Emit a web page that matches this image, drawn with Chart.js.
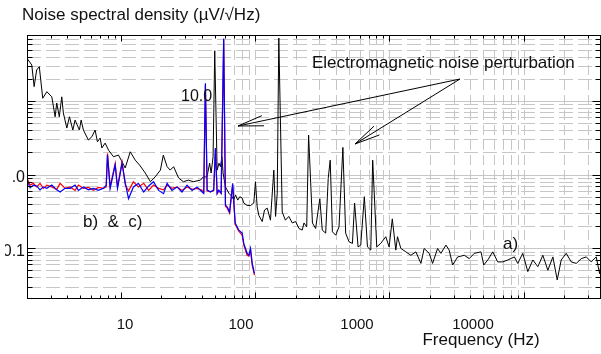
<!DOCTYPE html>
<html>
<head>
<meta charset="utf-8">
<script src="https://cdn.jsdelivr.net/npm/chart.js@4.4.0/dist/chart.umd.min.js"></script>
<style>
  html, body { margin: 0; padding: 0; background: #fff; }
</style>
</head>
<body>
<canvas id="noiseChart" width="601" height="354"></canvas>
<script>
// a) black curve: frequency (Hz) and noise density (µV/√Hz)
const freqA = [2.0, 2.17, 2.26, 2.36, 2.47, 2.62, 2.81, 3.06, 3.24, 3.33,
  3.48, 3.63, 3.73, 3.96, 4.14, 4.39, 4.56, 4.91, 5.06, 5.26,
  5.73, 6.08, 6.43, 6.69, 7.01, 7.22, 7.64, 8.09, 8.81, 9.6,
  10.05, 10.77, 11.74, 12.8, 13.77, 15.2, 16.6, 18.0, 19.7, 20.7,
  22.1, 23.3, 24.7, 26.9, 29.2, 31.8, 34.7, 39.1, 41.1, 43.8,
  45.8, 47.0, 48.6, 50.0, 52.1, 53.8, 55.1, 56.6, 57.7, 60.1,
  63.6, 67.4, 69.3, 71.3, 74.2, 76.8, 80.0, 82.3, 87.2, 92.3,
  97.7, 100.5, 103.5, 106.4, 112.8, 117.4, 123, 130, 137.7, 141.9,
  146, 150, 159, 168, 178, 189, 200, 212, 224, 231,
  242, 250, 267, 282, 303, 316, 335, 350, 362, 376,
  398, 421, 450, 472, 500, 530, 550, 584, 611, 650,
  686, 726, 750, 804, 861, 939, 994, 1050, 1115, 1148,
  1216, 1325, 1443, 1573, 1715, 1813, 1977, 2095, 2282, 2416,
  2632, 2786, 2953, 3220, 3607, 3929, 4283, 4806, 5035, 5396,
  5877, 6402, 6979, 7603, 8518, 9025, 9833, 10717, 11681, 12730,
  13875, 15115, 16480, 17745, 19010, 20710, 22560, 24600, 26800, 29200,
  31800, 34650, 36700, 37760];
const noiseA = [38.1, 30.9, 15.7, 26.4, 29.3, 10.9, 13.4, 11.4, 6.11, 9.4,
  6.11, 11.4, 6.87, 4.29, 6.11, 4.03, 5.51, 4.03, 5.51, 4.03,
  2.95, 3.27, 4.03, 2.79, 3.14, 2.30, 2.68, 2.15, 1.75, 1.84,
  1.57, 1.23, 2.04, 1.57, 1.35, 1.05, 0.80, 0.93, 1.15, 1.84,
  1.28, 1.15, 1.28, 0.90, 0.80, 0.84, 0.80, 0.84, 0.93, 0.93,
  1.43, 1.05, 1.75, 48.3, 1.15, 1.43, 1.28, 1.75, 1.05, 0.68,
  0.56, 0.50, 0.45, 0.53, 0.45, 0.50, 0.48, 0.41, 0.38, 0.38,
  0.41, 0.80, 0.365, 0.28, 0.23, 0.33, 0.35, 0.24, 1.15, 0.27,
  0.56, 72, 0.31, 0.24, 0.27, 0.22, 0.23, 0.185, 0.176, 0.22,
  0.195, 3.45, 0.22, 0.185, 0.47, 0.176, 0.16, 0.89, 1.57, 0.167,
  0.15, 0.195, 2.34, 0.16, 0.122, 0.116, 0.41, 0.104, 0.11, 0.50,
  0.104, 0.094, 1.57, 0.104, 0.116, 0.143, 0.104, 0.25, 0.094, 0.143,
  0.099, 0.089, 0.080, 0.089, 0.062, 0.099, 0.085, 0.062, 0.099, 0.085,
  0.11, 0.094, 0.059, 0.076, 0.080, 0.072, 0.085, 0.089, 0.059, 0.069,
  0.089, 0.065, 0.065, 0.069, 0.076, 0.062, 0.085, 0.048, 0.069, 0.056,
  0.080, 0.050, 0.076, 0.037, 0.069, 0.085, 0.065, 0.062, 0.072, 0.076,
  0.065, 0.076, 0.045, 0.065];

// b) red and c) blue curves share one frequency grid
const freqBC = [2.0, 2.11, 2.23, 2.36, 2.50, 2.65, 2.81, 3.06, 3.33, 3.53,
  3.84, 4.19, 4.56, 4.83, 5.26, 5.73, 6.25, 6.81, 7.42, 7.78,
  7.95, 8.32, 9.07, 9.44, 10.2, 10.8, 11.4, 12.4, 13.5, 14.8,
  16.1, 17.5, 19.1, 20.8, 22.1, 24.0, 26.2, 28.5, 31.1, 33.9,
  36.9, 40.3, 41.4, 42.6, 43.9, 46.4, 49.1, 50.6, 52.1, 53.6,
  55.8, 58.3, 60.1, 61.9, 64.5, 68.0, 71.0, 75.5, 80.0, 82.3,
  87.2, 89.8, 92.3, 95.1, 98.9];
const noiseB = [0.89, 0.72, 0.76, 0.68, 0.76, 0.65, 0.72, 0.68, 0.63, 0.76,
  0.65, 0.68, 0.61, 0.72, 0.65, 0.67, 0.61, 0.67, 0.65, 0.68,
  1.94, 0.68, 1.42, 0.68, 1.49, 0.72, 0.60, 0.80, 0.68, 0.76,
  0.61, 0.72, 0.65, 0.62, 0.72, 0.65, 0.68, 0.61, 0.68, 0.63,
  0.65, 0.61, 0.58, 16.5, 0.60, 0.58, 0.60, 2.2, 0.55, 0.60,
  0.56, 68, 0.37, 0.35, 0.30, 0.72, 0.21, 0.17, 0.15, 0.11,
  0.080, 0.078, 0.095, 0.058, 0.043];
const noiseC = [0.84, 0.66, 0.72, 0.70, 0.62, 0.68, 0.65, 0.72, 0.62, 0.58,
  0.65, 0.65, 0.72, 0.61, 0.68, 0.62, 0.65, 0.61, 0.65, 0.72,
  1.84, 0.65, 1.35, 0.65, 1.42, 0.76, 0.47, 0.68, 0.76, 0.58,
  0.70, 0.80, 0.61, 0.55, 0.76, 0.61, 0.68, 0.58, 0.72, 0.61,
  0.68, 0.58, 0.555, 17.4, 0.615, 0.583, 0.615, 2.3, 0.555, 0.615,
  0.555, 71, 0.385, 0.365, 0.31, 0.76, 0.22, 0.176, 0.16, 0.116,
  0.085, 0.08, 0.099, 0.062, 0.045];

const xTickLabels = ['10', '100', '1000', '10000'];
const yTickLabels = ['10.0', '1.0', '0.1'];

const FONT = '"Liberation Sans", Arial, sans-serif';
const toPoints = (xs, ys) => xs.map((x, i) => ({ x: x, y: ys[i] }));

function logTicks(min, max) {
  const out = [];
  for (let e = Math.floor(Math.log10(min)); e <= Math.ceil(Math.log10(max)); e++) {
    for (let m = 1; m <= 9; m++) {
      const v = m * Math.pow(10, e);
      if (v >= min && v <= max) out.push({ v: v, major: m === 1 });
    }
  }
  return out;
}

function seg(ctx, x0, y0, x1, y1) {
  ctx.beginPath(); ctx.moveTo(x0, y0); ctx.lineTo(x1, y1); ctx.stroke();
}

function arrow(ctx, x0, y0, x1, y1) {
  seg(ctx, x0, y0, x1, y1);
  const ang = Math.atan2(y0 - y1, x0 - x1);
  [-0.2, 0.2].forEach(d => seg(ctx, x1, y1, x1 + 26 * Math.cos(ang + d), y1 + 26 * Math.sin(ang + d)));
}

const framePlugin = {
  id: 'frame',
  beforeDatasetsDraw(chart) {
    const { ctx, chartArea: a, scales: { x, y } } = chart;
    ctx.save();
    ctx.strokeStyle = '#c6c6c6';
    ctx.lineWidth = 1;
    logTicks(y.min, y.max).forEach(t => {
      const py = Math.round(y.getPixelForValue(t.v)) + 0.5;
      ctx.setLineDash(t.major ? [] : [14, 5]);
      seg(ctx, a.left, py, a.right, py);
    });
    ctx.setLineDash([10, 5]);
    logTicks(x.min, x.max).filter(t => t.v >= 70).forEach(t => {
      const px = Math.round(x.getPixelForValue(t.v)) + 0.5;
      seg(ctx, px, a.top, px, a.bottom);
    });
    ctx.restore();
  },
  afterDatasetsDraw(chart) {
    const { ctx, chartArea: a, scales: { x, y, xl } } = chart;
    ctx.save();
    ctx.strokeStyle = '#000';
    ctx.lineWidth = 1;
    ctx.setLineDash([]);
    const L = a.left + 0.5, R = a.right - 0.5, T = a.top + 0.5, B = a.bottom + 0.5;
    ctx.strokeRect(L, T, R - L, B - T);
    logTicks(x.min, x.max).forEach(t => {
      const px = Math.round(x.getPixelForValue(t.v)) + 0.5;
      const len = t.major ? 6 : 3;
      seg(ctx, px, B, px, B - len);
      seg(ctx, px, T, px, T + len);
    });
    logTicks(y.min, y.max).forEach(t => {
      const py = Math.round(y.getPixelForValue(t.v)) + 0.5;
      const len = t.major ? 8 : 5;
      seg(ctx, L, py, L + len, py);
      seg(ctx, R, py, R - len, py);
    });

    // arrows of the annotation
    arrow(ctx, 460, 79, 238, 126);
    arrow(ctx, 460, 79, 355, 144);

    ctx.fillStyle = '#111';
    ctx.textBaseline = 'middle';
    ctx.font = '17px ' + FONT;
    ctx.textAlign = 'left';
    ctx.fillText('Noise spectral density (µV/√Hz)', 22, 15);
    ctx.fillText('Electromagnetic noise perturbation', 312, 63);
    ctx.fillText('b)  &  c)', 83, 222);
    ctx.fillText('a)', 503, 244);
    ctx.textAlign = 'center';
    ctx.fillText('Frequency (Hz)', 481, 340);
    ctx.font = '16px ' + FONT;
    ctx.textAlign = 'left';
    ctx.fillText(yTickLabels[0], 181, 97);

    // x tick labels (drawn through the label scale, shifted like the original)
    ctx.font = '15px ' + FONT;
    ctx.textAlign = 'center';
    xTickLabels.forEach(s => {
      ctx.fillText(s, xl.getPixelForValue(Number(s)), 325);
    });

    // clipped y labels on the left edge
    ctx.font = '16px ' + FONT;
    ctx.textAlign = 'right';
    [[yTickLabels[1], 1, 11], [yTickLabels[2], 0.1, 5]].forEach(([s, v, clipX]) => {
      ctx.save();
      ctx.beginPath();
      ctx.rect(clipX, 0, 27 - clipX, 354);
      ctx.clip();
      ctx.fillText(s, 25, y.getPixelForValue(v) + 3);
      ctx.restore();
    });
    ctx.restore();
  }
};

new Chart(document.getElementById('noiseChart').getContext('2d'), {
  type: 'line',
  data: {
    datasets: [
      { label: 'c)', data: toPoints(freqBC, noiseC), borderColor: '#0000ff', borderWidth: 1.2, order: 0 },
      { label: 'b)', data: toPoints(freqBC, noiseB), borderColor: '#ff0000', borderWidth: 1.2, order: 1 },
      { label: 'a)', data: toPoints(freqA, noiseA), borderColor: '#000000', borderWidth: 1, order: 2 }
    ]
  },
  options: {
    responsive: false,
    animation: false,
    layout: { padding: { left: 27, top: 35, right: 0, bottom: 56 } },
    elements: { point: { radius: 0 }, line: { tension: 0, fill: false } },
    plugins: { legend: { display: false }, tooltip: { enabled: false } },
    scales: {
      x: { type: 'logarithmic', min: 2, max: 37600, display: false },
      y: { type: 'logarithmic', min: 0.021, max: 79, display: false },
      xl: { type: 'logarithmic', axis: 'x', min: 1.43, max: 126800, display: false }
    }
  },
  plugins: [framePlugin]
});
</script>
</body>
</html>
